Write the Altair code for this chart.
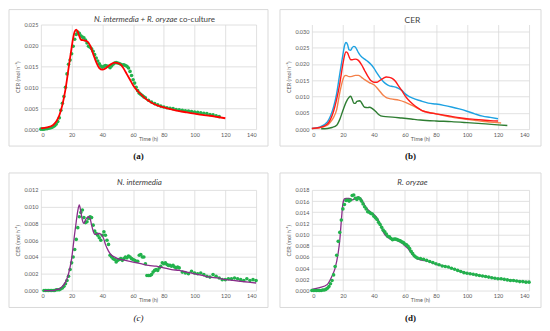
import altair as alt
import pandas as pd

FONT = "Lato"
SERIF = "Liberation Serif"
GRID = "#d9d9d9"
TXT = "#595959"
GREEN_DOT = "#22b24c"

X_TICKS = [0, 20, 40, 60, 80, 100, 120, 140]

# ---------------- (a) co-culture ----------------
a_model_t = [0, 4, 8, 10, 12, 14, 16, 18, 20, 21, 22, 23, 24, 25, 26, 28, 30, 32, 34, 36, 38, 40,
             42, 44, 46, 48, 50, 52, 54, 56, 58, 60, 62, 64, 66, 68, 70, 72, 76, 80, 85, 90, 95,
             100, 105, 110, 115, 120]
a_model_v = [0.0002, 0.0004, 0.0010, 0.0018, 0.0033, 0.0058, 0.0095, 0.0145, 0.0195, 0.0218,
             0.0233, 0.0238, 0.0233, 0.0222, 0.0214, 0.0212, 0.0210, 0.0200, 0.0180, 0.0160,
             0.0146, 0.0142, 0.0145, 0.0151, 0.0156, 0.0159, 0.0158, 0.0154, 0.0144, 0.0131,
             0.0118, 0.0105, 0.0095, 0.0087, 0.0080, 0.0073, 0.0068, 0.0063, 0.0056, 0.0052,
             0.0047, 0.0043, 0.0040, 0.0037, 0.0034, 0.0032, 0.0029, 0.0026]

a_obs_t = list(range(0, 69)) + [70, 72, 74, 76, 78, 80, 82, 84, 86, 88, 90, 92, 94, 96, 98, 100,
                                102, 104, 106, 108, 110, 112, 114, 116]
a_obs_v = [0.0000, 0.0000, 0.0000, 0.0001, 0.0001, 0.0002, 0.0003, 0.0004, 0.0006, 0.0008,
           0.0012, 0.0018, 0.0027, 0.0045, 0.0062, 0.0078, 0.0100, 0.0132, 0.0155, 0.0165,
           0.0180, 0.0198, 0.0215, 0.0226, 0.0232, 0.0229, 0.0223, 0.0220, 0.0218, 0.0213,
           0.0206, 0.0198, 0.0196, 0.0192, 0.0186, 0.0178, 0.0170, 0.0163, 0.0156, 0.0151,
           0.0148, 0.0150, 0.0152, 0.0151, 0.0150, 0.0147, 0.0151, 0.0155, 0.0158, 0.0159,
           0.0158, 0.0157, 0.0155, 0.0153, 0.0154, 0.0152, 0.0150, 0.0146, 0.0138, 0.0128,
           0.0118, 0.0110, 0.0100, 0.0092, 0.0086, 0.0083, 0.0080, 0.0077, 0.0075,
           0.0069, 0.0065, 0.0061, 0.0058, 0.0055, 0.0053, 0.0051, 0.0050, 0.0049, 0.0047,
           0.0046, 0.0045, 0.0044, 0.0043, 0.0042, 0.0041, 0.0040, 0.0039, 0.0038, 0.0037,
           0.0035, 0.0034, 0.0032, 0.0030]

# ---------------- (b) CER comparison ----------------
b_blue_t = [0, 5, 10, 12, 14, 16, 18, 20, 21, 22, 23, 24, 25, 26, 27, 28, 29, 30, 32, 34, 36, 38,
            40, 42, 44, 46, 48, 50, 52, 55, 58, 60, 62, 65, 70, 75, 80, 85, 90, 95, 100, 105,
            110, 115, 120]
b_blue_v = [0.0002, 0.0006, 0.0022, 0.0040, 0.0068, 0.0110, 0.0170, 0.0228, 0.0255, 0.0266,
            0.0260, 0.0243, 0.0242, 0.0250, 0.0254, 0.0252, 0.0244, 0.0235, 0.0222, 0.0215,
            0.0208, 0.0199, 0.0187, 0.0172, 0.0158, 0.0146, 0.0138, 0.0133, 0.0131, 0.0127,
            0.0119, 0.0109, 0.0102, 0.0095, 0.0087, 0.0080, 0.0077, 0.0073, 0.0068, 0.0062,
            0.0055, 0.0047, 0.0040, 0.0036, 0.0032]

b_red_t = [0, 5, 10, 12, 14, 16, 18, 20, 21, 22, 23, 24, 25, 26, 28, 30, 32, 34, 36, 38, 40, 42,
           44, 46, 48, 50, 52, 54, 56, 58, 60, 62, 65, 68, 71, 75, 80, 85, 90, 95, 100, 105,
           110, 115, 120]
b_red_v = [0.0002, 0.0005, 0.0016, 0.0030, 0.0055, 0.0092, 0.0140, 0.0200, 0.0225, 0.0237,
           0.0234, 0.0222, 0.0213, 0.0213, 0.0215, 0.0211, 0.0198, 0.0180, 0.0163, 0.0149,
           0.0144, 0.0144, 0.0150, 0.0156, 0.0160, 0.0159, 0.0155, 0.0146, 0.0132, 0.0118,
           0.0103, 0.0091, 0.0077, 0.0066, 0.0057, 0.0051, 0.0047, 0.0043, 0.0039, 0.0035,
           0.0032, 0.0030, 0.0028, 0.0026, 0.0025]

b_orange_t = [0, 5, 10, 12, 14, 16, 18, 20, 21, 22, 24, 26, 28, 30, 32, 34, 37, 40, 43, 46, 48,
              51, 56, 60, 65, 71, 75, 80, 85, 90, 95, 100, 105, 110, 115, 122]
b_orange_v = [0.0002, 0.0004, 0.0012, 0.0022, 0.0036, 0.0060, 0.0112, 0.0152, 0.0163, 0.0165,
              0.0161, 0.0162, 0.0165, 0.0165, 0.0159, 0.0152, 0.0143, 0.0136, 0.0121, 0.0104,
              0.0097, 0.0093, 0.0089, 0.0083, 0.0072, 0.0057, 0.0052, 0.0047, 0.0042, 0.0037,
              0.0033, 0.0030, 0.0027, 0.0024, 0.0022, 0.0019]

b_green_t = [6, 10, 13, 16, 18, 20, 22, 24, 25, 26, 27, 28, 29, 31, 32, 34, 36, 37, 39, 41, 43,
             46, 52, 58, 64, 70, 80, 90, 100, 112, 120, 126]
b_green_v = [0.0001, 0.0002, 0.0005, 0.0012, 0.0030, 0.0057, 0.0082, 0.0098, 0.0101, 0.0092,
             0.0080, 0.0079, 0.0085, 0.0087, 0.0081, 0.0067, 0.0066, 0.0067, 0.0063, 0.0055,
             0.0045, 0.0039, 0.0037, 0.0034, 0.0031, 0.0028, 0.0025, 0.0023, 0.0020, 0.0016,
             0.0013, 0.0011]

# ---------------- (c) N. intermedia ----------------
c_model_t = [2, 8, 10, 12, 14, 16, 18, 20, 22, 23, 24, 25, 26, 27, 28, 29, 30, 31, 32, 33, 34,
             35, 36, 37, 38, 39, 40, 41, 42, 44, 46, 48, 50, 55, 60, 65, 70, 75, 80, 85, 90,
             95, 100, 105, 110, 115, 120, 125, 130, 135, 140]
c_model_v = [0.0000, 0.0000, 0.0001, 0.0002, 0.0005, 0.0010, 0.0020, 0.0038, 0.0068, 0.0082,
             0.0095, 0.0102, 0.0094, 0.0084, 0.0080, 0.0084, 0.0087, 0.0088, 0.0086, 0.0078,
             0.0071, 0.0067, 0.0067, 0.0068, 0.0068, 0.0067, 0.0065, 0.0061, 0.0055, 0.0047,
             0.0042, 0.0040, 0.0038, 0.0036, 0.0034, 0.0032, 0.0030, 0.0029, 0.0027, 0.0025,
             0.0024, 0.0022, 0.0020, 0.0018, 0.0016, 0.0015, 0.0013, 0.0012, 0.0011, 0.0010,
             0.0009]

c_obs_t = list(range(2, 91)) + [92, 94, 96, 98, 100, 102, 104, 106, 108, 110, 112, 114, 116,
                                118, 120, 122, 124, 126, 128, 130, 132, 134, 136, 138, 140]
c_obs_v = [0.0000, 0.0000, 0.0000, 0.0000, 0.0000, 0.0000, 0.0000, 0.0000, 0.0001, 0.0001,
           0.0001, 0.0002, 0.0003, 0.0005, 0.0008, 0.0012, 0.0017, 0.0025, 0.0033, 0.0040,
           0.0049, 0.0061, 0.0075, 0.0088, 0.0093, 0.0096, 0.0087, 0.0081, 0.0082, 0.0086,
           0.0088, 0.0087, 0.0078, 0.0071, 0.0068, 0.0066, 0.0063, 0.0060, 0.0066, 0.0070,
           0.0066, 0.0060, 0.0055, 0.0042, 0.0040, 0.0038, 0.0037, 0.0034, 0.0036, 0.0037,
           0.0038, 0.0036, 0.0038, 0.0040, 0.0039, 0.0041, 0.0040, 0.0038, 0.0037, 0.0036,
           0.0035, 0.0035, 0.0042, 0.0043, 0.0040, 0.0040, 0.0032, 0.0018, 0.0018, 0.0018,
           0.0019, 0.0022, 0.0024, 0.0025, 0.0024, 0.0027, 0.0029, 0.0033, 0.0032, 0.0033,
           0.0031, 0.0030, 0.0030, 0.0029, 0.0030, 0.0028, 0.0027, 0.0028, 0.0027,
           0.0022, 0.0021, 0.0020, 0.0023, 0.0021, 0.0020, 0.0021, 0.0019, 0.0017,
           0.0016, 0.0019, 0.0017, 0.0015, 0.0013, 0.0013, 0.0014, 0.0014, 0.0015, 0.0014,
           0.0013, 0.0012, 0.0014, 0.0012, 0.0013, 0.0012]

# ---------------- (d) R. oryzae ----------------
d_model_t = [0, 5, 10, 13, 15, 17, 18, 19, 20, 21, 22, 23, 24, 25, 26, 27, 28, 29, 30, 31, 32,
             34, 36, 38, 40, 42, 44, 46, 48, 50, 52, 54, 56, 58, 60, 62, 64, 66, 68, 70, 75,
             80, 85, 90, 100, 110, 120, 130, 140]
d_model_v = [0.0002, 0.0005, 0.0011, 0.0026, 0.0040, 0.0068, 0.0090, 0.0125, 0.0155, 0.0164,
             0.0165, 0.0165, 0.0165, 0.0164, 0.0162, 0.0163, 0.0165, 0.0167, 0.0167, 0.0166,
             0.0163, 0.0153, 0.0145, 0.0140, 0.0136, 0.0130, 0.0119, 0.0105, 0.0097, 0.0093,
             0.0091, 0.0091, 0.0088, 0.0085, 0.0080, 0.0075, 0.0067, 0.0061, 0.0057, 0.0055,
             0.0052, 0.0047, 0.0044, 0.0040, 0.0031, 0.0026, 0.0021, 0.0018, 0.0015]

d_obs_t = list(range(0, 68)) + list(range(68, 141, 2))
d_obs_v = [0.0000, 0.0000, 0.0000, 0.0000, 0.0000, 0.0000, 0.0000, 0.0001, 0.0001, 0.0002,
           0.0004, 0.0007, 0.0012, 0.0018, 0.0028, 0.0043, 0.0063, 0.0088, 0.0104, 0.0126,
           0.0146, 0.0154, 0.0161, 0.0162, 0.0160, 0.0162, 0.0170, 0.0171, 0.0165, 0.0163,
           0.0166, 0.0164, 0.0160, 0.0155, 0.0150, 0.0146, 0.0141, 0.0140, 0.0138, 0.0137,
           0.0133, 0.0130, 0.0127, 0.0122, 0.0118, 0.0113, 0.0108, 0.0105, 0.0101, 0.0097,
           0.0096, 0.0093, 0.0091, 0.0092, 0.0092, 0.0091, 0.0090, 0.0089, 0.0087, 0.0086,
           0.0083, 0.0082, 0.0079, 0.0075, 0.0070, 0.0066, 0.0062, 0.0060,
           0.0058, 0.0057, 0.0056, 0.0054, 0.0052, 0.0050, 0.0048, 0.0046, 0.0044, 0.0043,
           0.0042, 0.0040, 0.0038, 0.0036, 0.0034, 0.0032, 0.0031, 0.0030, 0.0029, 0.0028,
           0.0027, 0.0026, 0.0025, 0.0024, 0.0023, 0.0022, 0.0021, 0.0021, 0.0020, 0.0019,
           0.0018, 0.0018, 0.0017, 0.0016, 0.0016, 0.0015, 0.0015]

Y_TITLE = "CER (mol h\u207b\u00b9)"


def txt(text, x, y, size, style="normal", weight="normal", font=FONT, color="#404040",
        align="center"):
    return alt.Chart(pd.DataFrame({"label": [text]})).mark_text(
        font=font, fontSize=size, fontStyle=style, fontWeight=weight, color=color,
        align=align, baseline="middle"
    ).encode(x=alt.value(x), y=alt.value(y), text="label:N")


def panel(series, points, ymax, yticks, W, H, titles, caption, cap_style, fl, fr, ft, fb,
          cap_y, dots_on_top=False):
    xs = alt.X("t:Q", scale=alt.Scale(domain=[0, 140], nice=False),
               axis=alt.Axis(values=X_TICKS, title=None, grid=True, labelPadding=3))
    ys = alt.Y("v:Q", scale=alt.Scale(domain=[0, ymax], nice=False, zero=True),
               axis=alt.Axis(values=yticks, format=".3f", title=Y_TITLE, grid=True,
                             labelPadding=3, titlePadding=3))
    layers = [
        alt.Chart(pd.DataFrame({"k": [0]})).mark_rect(
            fill="transparent", stroke=GRID, strokeWidth=1
        ).encode(x=alt.value(fl), x2=alt.value(W + fr), y=alt.value(ft), y2=alt.value(H + fb))
    ]
    dots = []
    if points is not None:
        pt, pv = points
        dots.append(
            alt.Chart(pd.DataFrame({"t": pt, "v": pv})).mark_circle(
                size=13, color=GREEN_DOT, opacity=1
            ).encode(x=xs, y=ys)
        )
    lines = []
    for st, sv, col, sw in series:
        lines.append(
            alt.Chart(pd.DataFrame({"t": st, "v": sv})).mark_line(
                color=col, strokeWidth=sw, interpolate="monotone"
            ).encode(x=xs, y=ys)
        )
    layers += (lines + dots) if dots_on_top else (dots + lines)
    for t in titles:
        layers.append(txt(*t))
    layers.append(txt("Time (h)", W / 2, H + 10, 5.5, color=TXT))
    cs, cw = cap_style
    layers.append(txt(caption, (fl + W + fr) / 2, H + cap_y, 9, style=cs, weight=cw,
                      font=SERIF, color="#111111"))
    return alt.layer(*layers).properties(width=W, height=H)


W1, W2 = 216, 218
H1, H2 = 105, 101

pa = panel(
    [(a_model_t, a_model_v, "#ff0000", 1.8)], (a_obs_t, a_obs_v),
    0.025, [0, 0.005, 0.010, 0.015, 0.020, 0.025], W1, H1,
    [("N. intermedia + R. oryzae", 137, -5, 8, "italic", "normal", FONT, "#404040", "right"),
     ("co-culture", 139, -5, 8, "normal", "normal", FONT, "#404040", "left")],
    "(a)", ("normal", "bold"), -32, 12, -15, 17, 27)

pb = panel(
    [(b_green_t, b_green_v, "#2e7d32", 1.4),
     (b_orange_t, b_orange_v, "#f4814a", 1.4),
     (b_blue_t, b_blue_v, "#1ea2e2", 1.4),
     (b_red_t, b_red_v, "#ff1a1a", 1.4)], None,
    0.0321, [0, 0.005, 0.010, 0.015, 0.020, 0.025, 0.030], W2, H1,
    [("CER", 101, -4.5, 8.5, "normal", "normal", FONT, "#404040", "center")],
    "(b)", ("normal", "bold"), -32, 12, -15, 17, 27)

pc = panel(
    [(c_model_t, c_model_v, "#8a2d8a", 1.3)], (c_obs_t, c_obs_v),
    0.012, [0, 0.002, 0.004, 0.006, 0.008, 0.010, 0.012], W1, H2,
    [("N. intermedia", 99, -7, 8, "italic", "normal", FONT, "#404040", "center")],
    "(c)", ("italic", "normal"), -32, 12, -17, 17, 28)

pd_ = panel(
    [(d_model_t, d_model_v, "#8a2d8a", 1.3)], (d_obs_t, d_obs_v),
    0.018, [0, 0.002, 0.004, 0.006, 0.008, 0.010, 0.012, 0.014, 0.016, 0.018], W2, H2,
    [("R. oryzae", 101, -7, 8, "italic", "normal", FONT, "#404040", "center")],
    "(d)", ("normal", "bold"), -32, 12, -17, 17, 28, dots_on_top=True)

chart = alt.vconcat(
    alt.hconcat(pa, pb, spacing=10),
    alt.hconcat(pc, pd_, spacing=10),
    spacing=11,
).properties(padding=0, background="white").configure_view(
    strokeWidth=0
).configure_axis(
    labelFont=FONT, labelFontSize=5.5, labelColor=TXT,
    titleFont=FONT, titleFontSize=5.5, titleColor=TXT, titleFontWeight="normal",
    gridColor=GRID, gridWidth=0.8, domain=False, ticks=False,
)

chart.save("out.html", embed_options={"renderer": "svg", "actions": False})
